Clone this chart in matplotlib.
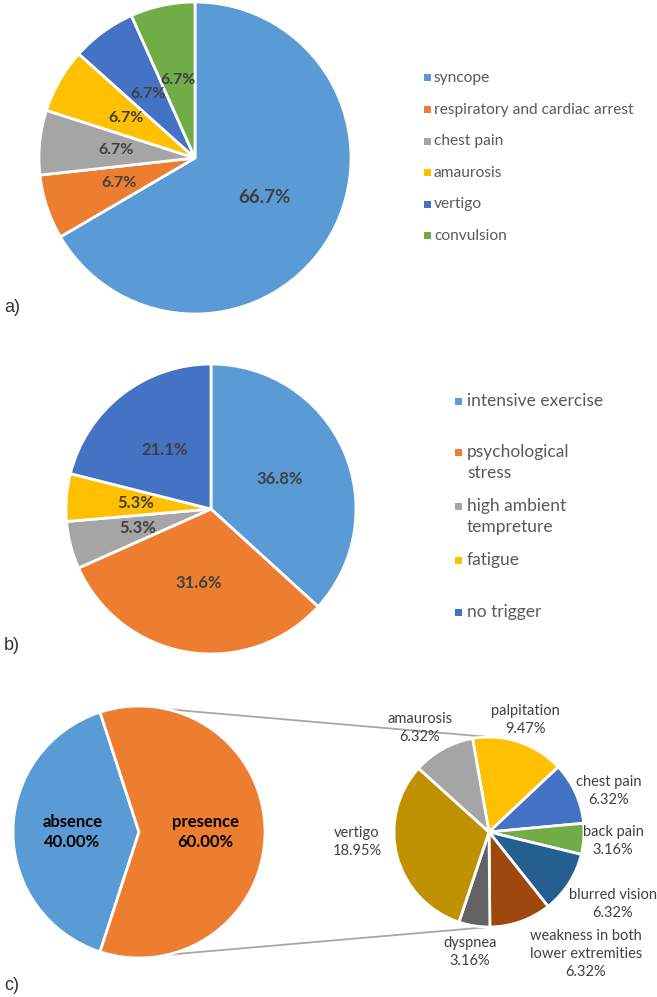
import numpy as np
import matplotlib
matplotlib.use("Agg")
import matplotlib.pyplot as plt
from matplotlib.patches import Rectangle

# ---- data ----
a_labels = ["syncope", "respiratory and cardiac arrest", "chest pain",
            "amaurosis", "vertigo", "convulsion"]
a_pct = [66.7, 6.7, 6.7, 6.7, 6.7, 6.7]

b_labels = ["intensive exercise", "psychological\nstress", "high ambient\ntempreture",
            "fatigue", "no trigger"]
b_pct = [36.8, 31.6, 5.3, 5.3, 21.1]

c_labels = ["absence", "presence"]
c_pct = [40.00, 60.00]

sub_labels = ["palpitation", "chest pain", "back pain", "blurred vision",
              "weakness in both\nlower extremities", "dyspnea", "vertigo", "amaurosis"]
sub_pct = [9.47, 6.32, 3.16, 6.32, 6.32, 3.16, 18.95, 6.32]

# ---- style ----
BLUE, ORANGE, GRAY, GOLD, DBLUE, GREEN = "#5B9BD5", "#ED7D31", "#A5A5A5", "#FFC000", "#4472C4", "#70AD47"
a_colors = [BLUE, ORANGE, GRAY, GOLD, DBLUE, GREEN]
b_colors = [BLUE, ORANGE, GRAY, GOLD, DBLUE]
c_colors = [BLUE, ORANGE]
sub_colors = [GOLD, DBLUE, GREEN, "#255E91", "#9E480E", "#636363", "#BF9000", GRAY]

TXT = "#404040"
LEG = "#595959"
FONT = "Lato"

W, H = 657, 997
fig = plt.figure(figsize=(W / 100, H / 100), dpi=100)
ax = fig.add_axes([0, 0, 1, 1])


def Y(y):
    # pixel row -> data y
    return H - y


def draw_pie(vals, colors, cx, cy, r, start, ccw=False):
    wedges, _ = ax.pie(vals, colors=colors, startangle=start, counterclock=ccw,
                       center=(cx, Y(cy)), radius=r, frame=True,
                       wedgeprops=dict(edgecolor="white", linewidth=2))
    return wedges


def mid_xy(w, dist):
    ang = np.deg2rad((w.theta1 + w.theta2) / 2)
    cx, cy = w.center
    return cx + dist * w.r * np.cos(ang), cy + dist * w.r * np.sin(ang)


# ---- a) ----
wa = draw_pie(a_pct, a_colors, 195, 158, 156, 90)
for i, (w, p) in enumerate(zip(wa, a_pct)):
    x, y = mid_xy(w, 0.51)
    ax.text(x, y, f"{p:.1f}%", ha="center", va="center", color=TXT,
            fontsize=13.5 if i == 0 else 11.5, fontweight="bold", family=FONT)

for i, (lab, col) in enumerate(zip(a_labels, a_colors)):
    yy = 78 + i * 31.6
    ax.add_patch(Rectangle((424, Y(yy) - 3.5), 7, 7, color=col, lw=0))
    ax.text(434, Y(yy), lab, ha="left", va="center", color=LEG, fontsize=11.2, family=FONT)

# ---- b) ----
wb = draw_pie(b_pct, b_colors, 211, 509, 145, 90)
for w, p in zip(wb, b_pct):
    x, y = mid_xy(w, 0.52)
    ax.text(x, y, f"{p:.1f}%", ha="center", va="center", color=TXT,
            fontsize=12, fontweight="bold", family=FONT)

b_leg_y = [402, 453, 507, 561, 613]
for lab, col, yy in zip(b_labels, b_colors, b_leg_y):
    ax.add_patch(Rectangle((455, Y(yy) - 3.5), 7, 7, color=col, lw=0))
    ax.text(467, Y(yy) + 9.5, lab, ha="left", va="top", color=LEG, fontsize=12.5,
            family=FONT, linespacing=1.4)

# ---- c) ----
mcx, mcy, mr = 139, 832, 126
scx, scy, sr = 489, 832, 95
wc = draw_pie(c_pct, c_colors, mcx, mcy, mr, 108, ccw=True)
for w, lab, p in zip(wc, c_labels, c_pct):
    x, y = mid_xy(w, 0.53)
    ax.text(x, y, f"{lab}\n{p:.2f}%", ha="center", va="center", color="black",
            fontsize=12, fontweight="bold", family=FONT, linespacing=1.3)

ws = draw_pie(sub_pct, sub_colors, scx, scy, sr, 100)

# connector lines
ang = np.deg2rad(77)
for s in (1, -1):
    ax.plot([mcx + mr * np.cos(ang), scx], [Y(mcy) + s * mr * np.sin(ang), Y(scy) + s * sr],
            color="#A6A6A6", lw=1.3, zorder=0)

sub_label_xy = [(525, 720), (609, 791), (613, 841), (613, 904),
                (586, 954), (470, 952), (357, 842), (420, 728)]
for lab, p, (x, y) in zip(sub_labels, sub_pct, sub_label_xy):
    ax.text(x, Y(y), f"{lab}\n{p:.2f}%", ha="center", va="center", color=TXT,
            fontsize=10.5, family=FONT, linespacing=1.4)

# panel tags
for tag, yy in (("a)", 307), ("b)", 646), ("c)", 986)):
    ax.text(4, Y(yy), tag, ha="left", va="center", fontsize=13, color="#333333",
            family="Liberation Sans")

ax.set_xlim(0, W)
ax.set_ylim(0, H)
ax.set_aspect("equal")
ax.axis("off")

fig.savefig("out.png", dpi=100)
